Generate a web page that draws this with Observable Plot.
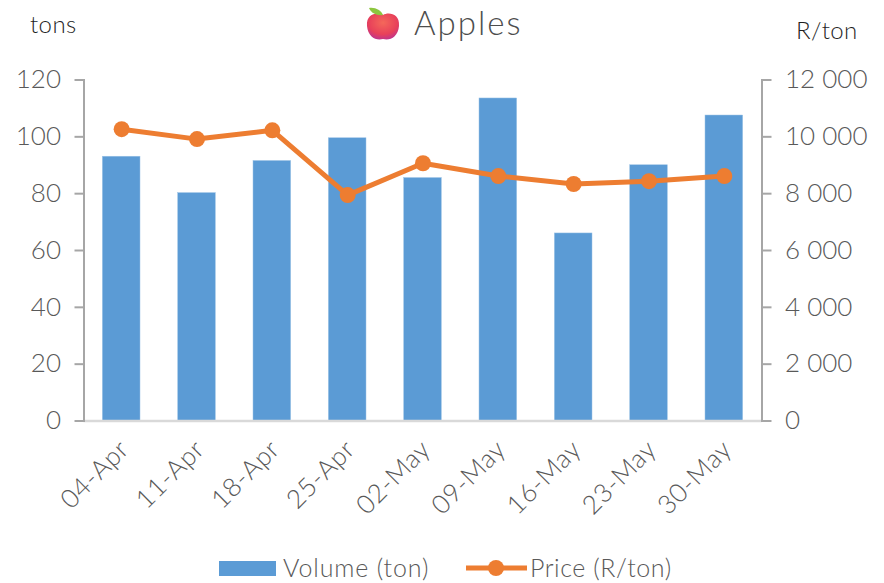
<!DOCTYPE html>
<html>
<head>
<meta charset="utf-8">
<script src="https://cdn.jsdelivr.net/npm/d3@7"></script>
<script src="https://cdn.jsdelivr.net/npm/@observablehq/plot@0.6"></script>
<style>
html,body{margin:0;padding:0;background:#fff;}
body{width:884px;height:583px;position:relative;overflow:hidden;font-family:Lato,sans-serif;font-weight:300;color:#595959;}
.abs{position:absolute;white-space:nowrap;line-height:1;}
#chart{position:absolute;left:0;top:60px;}
#chart svg{display:block;}
#chart text{font-weight:300;}
#chart g[aria-label="x-axis tick label"] text{letter-spacing:0.6px;}
</style>
</head>
<body>
<div class="abs" style="left:30px;top:12px;font-size:24px;letter-spacing:0.4px;color:#1f1f1f">tons</div>
<div class="abs" style="left:796px;top:18px;font-size:24px;letter-spacing:0.4px;color:#1f1f1f">R/ton</div>
<svg class="abs" style="left:364px;top:6px" width="38" height="37" viewBox="0 0 38 37">
  <defs>
    <radialGradient id="ag" cx="0.5" cy="0.35" r="0.75">
      <stop offset="0" stop-color="#f4685a"/><stop offset="0.6" stop-color="#e8405a"/><stop offset="1" stop-color="#b02fa0"/>
    </radialGradient>
  </defs>
  <path d="M19 9C24 6 36 7 35 20C34 31 26 35 19 33C12 35 4 31 3 20C2 7 14 6 19 9Z" fill="url(#ag)"/>
  <path d="M5 2C11 1 17 4 19 9C13 10 7 7 5 2Z" fill="#8cc63f"/>
</svg>
<div class="abs" id="title" style="left:414px;top:6px;font-size:33px;letter-spacing:2px;color:#4d4d4d">Apples</div>
<div id="chart"></div>
<svg class="abs" style="left:219px;top:561px" width="58" height="16"><rect x="0" y="0" width="57" height="15" fill="#5b9bd5"/></svg>
<div class="abs" style="left:283px;top:555px;font-size:25px;letter-spacing:0.85px;color:#595959">Volume (ton)</div>
<svg class="abs" style="left:465px;top:558px" width="64" height="20"><line x1="1" x2="62" y1="10" y2="10" stroke="#ed7d31" stroke-width="5"/><circle cx="31" cy="10" r="8" fill="#ed7d31"/></svg>
<div class="abs" style="left:530px;top:555px;font-size:25px;letter-spacing:0.55px;color:#595959">Price (R/ton)</div>
<script>
const weeks = ["04-Apr","11-Apr","18-Apr","25-Apr","02-May","09-May","16-May","23-May","30-May"];
const volume = [93,80.2,91.5,99.5,85.5,113.5,66,90,107.5];
const price = [10270,9920,10230,7950,9070,8620,8340,8440,8620];
const volumeTicks = [0,20,40,60,80,100,120];
const priceToVolume = 120/12000;
const rows = weeks.map((week,i)=>({week,volume:volume[i],price:price[i]}));
const axisGray = "#a6a6a6", textGray = "#595959";
const fmt = d => d3.format(",")(d).replace(/,/g," ");

const plot = Plot.plot({
  width:884, height:480,
  marginTop:19.5, marginBottom:119.5, marginLeft:83.5, marginRight:122.5,
  style:{fontFamily:"Lato,sans-serif",background:"#fff",overflow:"visible"},
  x:{domain:weeks,paddingInner:0.5,paddingOuter:0.25,align:0.5,round:false,label:null},
  y:{domain:[0,120],label:null},
  marks:[
    Plot.barY(rows,{x:"week",y:"volume",fill:"#5b9bd5",stroke:"#9dc3e6",strokeWidth:0.5}),
    Plot.axisY(volumeTicks,{anchor:"left",stroke:axisGray,strokeWidth:2,tickSize:9,tickPadding:14,
      fontSize:26,fill:textGray,label:null,tickFormat:d=>d}),
    Plot.axisY(volumeTicks,{anchor:"right",stroke:axisGray,strokeWidth:2,tickSize:9,tickPadding:14,
      fontSize:26,fill:textGray,label:null,tickFormat:d=>fmt(d/priceToVolume)}),
    Plot.axisX({anchor:"bottom",tickSize:0,tickRotate:-45,tickPadding:24,dx:3,fontSize:26,fill:textGray,label:null,textAnchor:"end"}),
    Plot.lineY(rows,{x:"week",y:d=>d.price*priceToVolume,stroke:"#ed7d31",strokeWidth:5,curve:"linear"}),
    Plot.dot(rows,{x:"week",y:d=>d.price*priceToVolume,r:8,fill:"#ed7d31"}),
    Plot.ruleY([0],{stroke:"#d9d9d9",strokeWidth:2.5}),
    Plot.frame({anchor:"left",stroke:axisGray,strokeWidth:2}),
    Plot.frame({anchor:"right",stroke:axisGray,strokeWidth:2})
  ]
});
document.getElementById("chart").appendChild(plot);
</script>
</body>
</html>
